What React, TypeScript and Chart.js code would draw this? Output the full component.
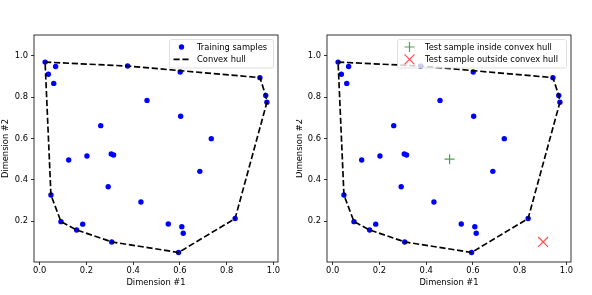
import React, { useEffect, useRef } from "react";
import { Chart, registerables } from "chart.js";

Chart.register(...registerables);

const TRAIN_X = [0.023, 0.037, 0.068, 0.06, 0.376, 0.601, 0.942, 0.967, 0.972, 0.459, 0.603, 0.261, 0.734, 0.124, 0.202, 0.306, 0.316, 0.685, 0.293, 0.048, 0.433, 0.091, 0.184, 0.158, 0.55, 0.608, 0.614, 0.836, 0.308, 0.594];
const TRAIN_Y = [0.969, 0.91, 0.948, 0.866, 0.95, 0.921, 0.894, 0.808, 0.775, 0.784, 0.707, 0.662, 0.599, 0.496, 0.515, 0.525, 0.52, 0.441, 0.367, 0.327, 0.293, 0.198, 0.186, 0.158, 0.187, 0.173, 0.142, 0.213, 0.1, 0.049];
const HULL_IDX = [0, 4, 6, 7, 8, 27, 29, 28, 23, 21, 19, 0];
const TEST_INSIDE = { x: 0.5, y: 0.5 };
const TEST_OUTSIDE = { x: 0.9, y: 0.1 };
const X_TICKS = [0.0, 0.2, 0.4, 0.6, 0.8, 1.0];
const Y_TICKS = [0.2, 0.4, 0.6, 0.8, 1.0];
const Y_TOP = 1.1;

const FONT_FAMILY = '"DejaVu Sans", sans-serif';
const FS = 8.33;
const BLUE = "#0000ff";
const GREEN = "rgba(0,128,0,0.7)";
const RED = "rgba(255,0,0,0.7)";

const xmin0 = Math.min(...TRAIN_X);
const xmax0 = Math.max(...TRAIN_X);
const ymin0 = Math.min(...TRAIN_Y);
const ymax0 = Math.max(...TRAIN_Y);
const X_MIN = xmin0 - 0.05 * (xmax0 - xmin0);
const X_MAX = xmax0 + 0.05 * (xmax0 - xmin0);
const Y_MIN = ymin0 - 0.05 * (ymax0 - ymin0);

const trainPts = TRAIN_X.map((x, i) => ({ x, y: TRAIN_Y[i] }));
const hullPts = HULL_IDX.map((i) => ({ x: TRAIN_X[i], y: TRAIN_Y[i] }));

type LegendItem = { kind: "dot" | "dash" | "plus" | "x"; text: string };

function makePlugins(legend: { x: number; y: number; w: number; h: number; items: LegendItem[] }) {
  return [
    {
      id: "frameAndLegend",
      afterDatasetsDraw(chart: any) {
        const ctx = chart.ctx as CanvasRenderingContext2D;
        const a = chart.chartArea;
        ctx.save();
        ctx.strokeStyle = "#000";
        ctx.lineWidth = 0.8;
        ctx.setLineDash([]);
        ctx.strokeRect(a.left, a.top, a.right - a.left, a.bottom - a.top);
        // legend
        const { x, y, w, h, items } = legend;
        ctx.beginPath();
        const r = 2;
        ctx.moveTo(x + r, y);
        ctx.lineTo(x + w - r, y);
        ctx.quadraticCurveTo(x + w, y, x + w, y + r);
        ctx.lineTo(x + w, y + h - r);
        ctx.quadraticCurveTo(x + w, y + h, x + w - r, y + h);
        ctx.lineTo(x + r, y + h);
        ctx.quadraticCurveTo(x, y + h, x, y + h - r);
        ctx.lineTo(x, y + r);
        ctx.quadraticCurveTo(x, y, x + r, y);
        ctx.closePath();
        ctx.fillStyle = "rgba(255,255,255,0.8)";
        ctx.fill();
        ctx.strokeStyle = "rgba(204,204,204,0.8)";
        ctx.lineWidth = 0.8;
        ctx.stroke();
        items.forEach((it, i) => {
          const cy = y + 7.5 + i * 12.4;
          const mx = x + 12;
          ctx.setLineDash([]);
          if (it.kind === "dot") {
            ctx.fillStyle = BLUE;
            ctx.beginPath();
            ctx.arc(mx, cy, 2.7, 0, Math.PI * 2);
            ctx.fill();
          } else if (it.kind === "dash") {
            ctx.strokeStyle = "#000";
            ctx.lineWidth = 1.67;
            ctx.setLineDash([6.2, 2.7]);
            ctx.beginPath();
            ctx.moveTo(mx - 8, cy);
            ctx.lineTo(mx + 8, cy);
            ctx.stroke();
            ctx.setLineDash([]);
          } else if (it.kind === "plus") {
            ctx.strokeStyle = GREEN;
            ctx.lineWidth = 1.2;
            ctx.beginPath();
            ctx.moveTo(mx - 5, cy);
            ctx.lineTo(mx + 5, cy);
            ctx.moveTo(mx, cy - 5);
            ctx.lineTo(mx, cy + 5);
            ctx.stroke();
          } else {
            ctx.strokeStyle = RED;
            ctx.lineWidth = 1.2;
            ctx.beginPath();
            ctx.moveTo(mx - 5, cy - 5);
            ctx.lineTo(mx + 5, cy + 5);
            ctx.moveTo(mx + 5, cy - 5);
            ctx.lineTo(mx - 5, cy + 5);
            ctx.stroke();
          }
          ctx.fillStyle = "#000";
          ctx.font = `${FS}px ${FONT_FAMILY}`;
          ctx.textAlign = "left";
          ctx.textBaseline = "middle";
          ctx.fillText(it.text, x + 27.5, cy + 0.5);
        });
        ctx.restore();
      },
    },
  ];
}

function makeOptions(yWidth: number, padRight: number, yTitlePad: number) {
  const font = { family: FONT_FAMILY, size: FS, lineHeight: 1 };
  return {
    responsive: false,
    animation: false as const,
    devicePixelRatio: 1,
    layout: { padding: { left: 0, right: padRight, top: 35, bottom: 0 } },
    plugins: { legend: { display: false }, tooltip: { enabled: false } },
    scales: {
      x: {
        type: "linear" as const,
        min: X_MIN,
        max: X_MAX,
        afterBuildTicks: (s: any) => {
          s.ticks = X_TICKS.map((v) => ({ value: v }));
        },
        afterFit: (s: any) => {
          s.height = 33;
        },
        ticks: {
          color: "#000",
          font,
          padding: 2,
          maxRotation: 0,
          autoSkip: false,
          callback: (v: any) => Number(v).toFixed(1),
        },
        grid: { drawOnChartArea: false, drawTicks: true, tickLength: 3, color: "#000", lineWidth: 0.8 },
        border: { display: false },
        title: { display: true, text: "Dimension #1", color: "#000", font, padding: { top: 0, bottom: 7.5 } },
      },
      y: {
        type: "linear" as const,
        min: Y_MIN,
        max: Y_TOP,
        afterBuildTicks: (s: any) => {
          s.ticks = Y_TICKS.map((v) => ({ value: v }));
        },
        afterFit: (s: any) => {
          s.width = yWidth;
        },
        ticks: {
          color: "#000",
          font,
          padding: 3,
          autoSkip: false,
          callback: (v: any) => Number(v).toFixed(1),
        },
        grid: { drawOnChartArea: false, drawTicks: true, tickLength: 3, color: "#000", lineWidth: 0.8 },
        border: { display: false },
        title: { display: true, text: "Dimension #2", color: "#000", font, padding: { top: yTitlePad, bottom: 0 } },
      },
    },
  };
}

const trainDataset = () => ({
  label: "Training samples",
  data: trainPts,
  pointRadius: 2.7,
  pointBackgroundColor: BLUE,
  pointBorderWidth: 0,
  pointBorderColor: BLUE,
  showLine: false,
  order: 2,
});
const hullDataset = () => ({
  label: "Convex hull",
  data: hullPts,
  showLine: true,
  borderColor: "#000",
  borderWidth: 1.67,
  borderDash: [6.2, 2.7],
  pointRadius: 0,
  fill: false,
  tension: 0,
  order: 1,
});

export default function App() {
  const leftRef = useRef<HTMLCanvasElement | null>(null);
  const rightRef = useRef<HTMLCanvasElement | null>(null);

  useEffect(() => {
    const left = new Chart(leftRef.current as HTMLCanvasElement, {
      type: "scatter",
      data: { datasets: [trainDataset(), hullDataset()] as any },
      options: makeOptions(34, 18, 1.8) as any,
      plugins: makePlugins({
        x: 169.5,
        y: 39.5,
        w: 104,
        h: 28.5,
        items: [
          { kind: "dot", text: "Training samples" },
          { kind: "dash", text: "Convex hull" },
        ],
      }) as any,
    });
    const right = new Chart(rightRef.current as HTMLCanvasElement, {
      type: "scatter",
      data: {
        datasets: [
          trainDataset(),
          hullDataset(),
          {
            label: "Test sample inside convex hull",
            data: [TEST_INSIDE],
            pointStyle: "cross",
            pointRadius: 5,
            pointBorderColor: GREEN,
            pointBorderWidth: 1.2,
            order: 0,
          },
          {
            label: "Test sample outside convex hull",
            data: [TEST_OUTSIDE],
            pointStyle: "crossRot",
            pointRadius: 7,
            pointBorderColor: RED,
            pointBorderWidth: 1.2,
            order: 0,
          },
        ] as any,
      },
      options: makeOptions(31, 21, 0) as any,
      plugins: makePlugins({
        x: 101.5,
        y: 39.5,
        w: 169,
        h: 28.5,
        items: [
          { kind: "plus", text: "Test sample inside convex hull" },
          { kind: "x", text: "Test sample outside convex hull" },
        ],
      }) as any,
    });
    return () => {
      left.destroy();
      right.destroy();
    };
  }, []);

  return (
    <div style={{ position: "fixed", left: 0, top: 0, width: 592, height: 295, background: "#fff", display: "flex" }}>
      <canvas ref={leftRef} width={296} height={295} style={{ display: "block", width: 296, height: 295 }} />
      <canvas ref={rightRef} width={296} height={295} style={{ display: "block", width: 296, height: 295 }} />
    </div>
  );
}
